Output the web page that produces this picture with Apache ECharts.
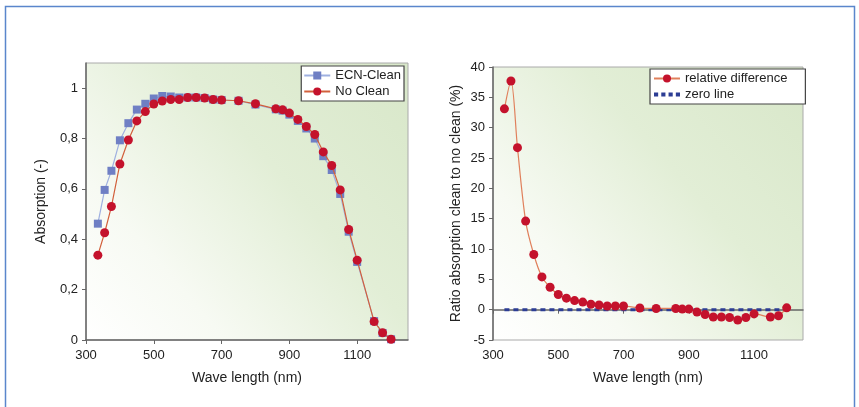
<!DOCTYPE html>
<html>
<head>
<meta charset="utf-8">
<script src="https://cdn.jsdelivr.net/npm/echarts@6/dist/echarts.min.js"></script>
<style>
  html, body { margin: 0; padding: 0; background: #fff; }
  #chart { width: 859px; height: 407px; }
</style>
</head>
<body>
<div id="chart"></div>
<script>
// wavelengths (nm), shared by both panels
var waveLength = [335, 355, 375, 400, 425, 450, 475, 500, 525, 550, 575, 600, 625, 650, 675, 700,
    750, 800, 860, 880, 900, 925, 950, 975, 1000, 1025, 1050, 1075, 1100, 1150, 1175, 1200];
// absorption (-)
var ecnClean = [0.462, 0.596, 0.672, 0.793, 0.861, 0.915, 0.938, 0.959, 0.969, 0.967, 0.963, 0.963, 0.963, 0.961, 0.955, 0.953,
    0.950, 0.935, 0.916, 0.911, 0.895, 0.870, 0.840, 0.800, 0.730, 0.675, 0.580, 0.430, 0.310, 0.075, 0.028, 0.003];
var noClean = [0.337, 0.426, 0.530, 0.699, 0.794, 0.870, 0.907, 0.937, 0.949, 0.955, 0.955, 0.963, 0.963, 0.961, 0.955, 0.953,
    0.950, 0.938, 0.918, 0.914, 0.901, 0.876, 0.848, 0.816, 0.747, 0.693, 0.596, 0.439, 0.317, 0.073, 0.029, 0.003];
// ratio absorption clean to no clean (%)
var relDiff = [33.1, 37.7, 26.7, 14.6, 9.1, 5.4, 3.7, 2.5, 1.9, 1.5, 1.25, 0.9, 0.76, 0.6, 0.6, 0.6,
    0.27, 0.2, 0.2, 0.1, 0.1, -0.4, -0.8, -1.2, -1.2, -1.3, -1.7, -1.3, -0.7, -1.2, -1.0, 0.3];
var zeroLineX = [335, 1200];
var zeroLineY = [0, 0];

var xTicks = [300, 500, 700, 900, 1100];
var absTicks = [0, 0.2, 0.4, 0.6, 0.8, 1];

function pairs(xs, ys) {
    return xs.map(function (x, i) { return [x, ys[i]]; });
}

var FONT = '"Liberation Sans Narrow", "Liberation Sans", Arial, sans-serif';
var plotBg = {
    type: 'linear', x: 0, y: 1, x2: 1, y2: 0,
    colorStops: [
        { offset: 0, color: '#ffffff' },
        { offset: 0.25, color: '#f7faf3' },
        { offset: 0.6, color: '#e2eed6' },
        { offset: 1, color: '#d8e7c9' }
    ]
};

function xAxisCfg(idx) {
    return {
        type: 'value', gridIndex: idx, min: 300, max: 1250,
        name: 'Wave length (nm)', nameLocation: 'middle', nameGap: 31,
        nameTextStyle: { fontFamily: FONT, fontSize: 14, color: '#222' },
        axisLine: { lineStyle: { color: '#666', width: 1.5 } },
        axisTick: { customValues: xTicks, length: 4, lineStyle: { color: '#666' } },
        axisLabel: {
            customValues: xTicks, fontFamily: FONT, fontSize: 13, color: '#222', margin: 9,
            formatter: function (v) { return String(v); }
        },
        splitLine: { show: false }
    };
}

var myChart = echarts.init(document.getElementById('chart'));
myChart.setOption({
    animation: false,
    backgroundColor: '#fff',
    graphic: [{
        type: 'rect', z: 100, silent: true,
        shape: { x: 5.5, y: 6.5, width: 849, height: 430 },
        style: { fill: 'none', stroke: '#5a86cc', lineWidth: 1.5 }
    }],
    grid: [
        { left: 86, top: 63, width: 322, height: 277, show: true, backgroundColor: plotBg, borderColor: '#aaa', borderWidth: 1 },
        { left: 493, top: 67, width: 310, height: 273, show: true, backgroundColor: plotBg, borderColor: '#aaa', borderWidth: 1 }
    ],
    legend: [
        {
            data: ['ECN-Clean', 'No Clean'],
            orient: 'vertical', right: 455, top: 66,
            backgroundColor: '#fff', borderColor: '#444', borderWidth: 1.2,
            padding: [3, 3, 3, 2], itemGap: 3, itemWidth: 26, itemHeight: 10,
            textStyle: { fontFamily: FONT, fontSize: 13, color: '#222' }
        },
        {
            data: ['relative difference', { name: 'zero line', icon: 'path://M0,3 L4,3 L4,7 L0,7 Z M7,3 L11,3 L11,7 L7,7 Z M14,3 L18,3 L18,7 L14,7 Z M21,3 L25,3 L25,7 L21,7 Z' }],
            orient: 'vertical', left: 650, top: 69,
            backgroundColor: '#fff', borderColor: '#444', borderWidth: 1.2,
            padding: [3, 18, 3, 3], itemGap: 3, itemWidth: 26, itemHeight: 10,
            textStyle: { fontFamily: FONT, fontSize: 13, color: '#222' }
        }
    ],
    xAxis: [xAxisCfg(0), xAxisCfg(1)],
    yAxis: [
        {
            type: 'value', gridIndex: 0, min: 0, max: 1.1,
            name: 'Absorption (-)', nameLocation: 'middle', nameGap: 38,
            nameTextStyle: { fontFamily: FONT, fontSize: 14, color: '#222' },
            axisLine: { show: true, lineStyle: { color: '#666', width: 1.5 } },
            axisTick: { show: true, customValues: absTicks, length: 4, lineStyle: { color: '#666' } },
            axisLabel: {
                customValues: absTicks, fontFamily: FONT, fontSize: 13, color: '#222', margin: 8,
                formatter: function (v) { return String(Math.round(v * 10) / 10).replace('.', ','); }
            },
            splitLine: { show: false }
        },
        {
            type: 'value', gridIndex: 1, min: -5, max: 40, interval: 5,
            name: 'Ratio absorption clean to no clean (%)', nameLocation: 'middle', nameGap: 30,
            nameTextStyle: { fontFamily: FONT, fontSize: 14, color: '#222' },
            axisLine: { show: true, lineStyle: { color: '#666', width: 1.5 } },
            axisTick: { show: true, length: 4, lineStyle: { color: '#666' } },
            axisLabel: { fontFamily: FONT, fontSize: 13, color: '#222', margin: 8 },
            splitLine: { show: false }
        }
    ],
    series: [
        {
            name: 'ECN-Clean', type: 'line', xAxisIndex: 0, yAxisIndex: 0, z: 2,
            data: pairs(waveLength, ecnClean),
            symbol: 'rect', symbolSize: 8,
            itemStyle: { color: '#6f7fc4' },
            lineStyle: { color: '#9fb0e0', width: 1.2 }
        },
        {
            name: 'No Clean', type: 'line', xAxisIndex: 0, yAxisIndex: 0, z: 3,
            data: pairs(waveLength, noClean),
            symbol: 'circle', symbolSize: 9,
            itemStyle: { color: '#c4122c' },
            lineStyle: { color: '#d2603c', width: 1.2 }
        },
        {
            name: 'zero line', type: 'line', xAxisIndex: 1, yAxisIndex: 1, z: 2,
            data: pairs(zeroLineX, zeroLineY),
            symbol: 'none',
            itemStyle: { color: '#2c3d94' },
            lineStyle: { color: '#2c3d94', width: 3, type: [5, 4] }
        },
        {
            name: 'relative difference', type: 'line', xAxisIndex: 1, yAxisIndex: 1, z: 3,
            data: pairs(waveLength, relDiff),
            smooth: 0.3,
            symbol: 'circle', symbolSize: 9,
            itemStyle: { color: '#c4122c' },
            lineStyle: { color: '#e0805c', width: 1.2 }
        }
    ]
});
</script>
</body>
</html>
